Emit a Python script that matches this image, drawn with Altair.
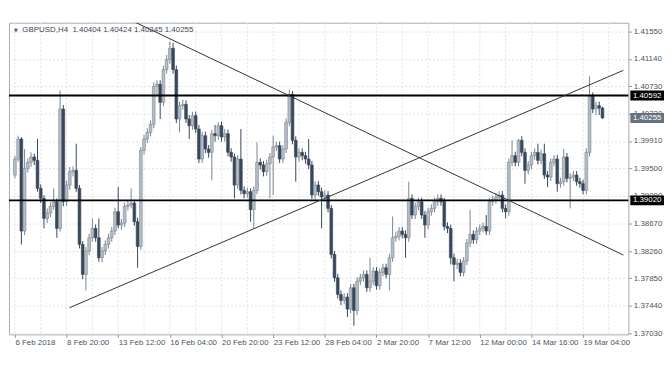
import altair as alt
import pandas as pd

# ---------------- data ----------------
symbol = "GBPUSD,H4"
x_labels = ["6 Feb 2018", "8 Feb 20:00", "13 Feb 12:00", "16 Feb 04:00",
            "20 Feb 20:00", "23 Feb 12:00", "28 Feb 04:00", "2 Mar 20:00",
            "7 Mar 12:00", "12 Mar 00:00", "14 Mar 16:00", "19 Mar 04:00"]
label_step = 16   # bars between time labels
grid_step = 8     # bars between vertical grid lines
y_ticks = [1.37030, 1.37440, 1.37850, 1.38260, 1.38670, 1.39090,
           1.39500, 1.39910, 1.40320, 1.40730, 1.41140, 1.41550]
levels = [1.40592, 1.39020]
current_price = 1.40255

first_open = 1.3940
closes = [
    1.3964, 1.3994, 1.3856, 1.3950, 1.3959, 1.3967, 1.3962, 1.3920, 1.3905, 1.3875,
    1.3883, 1.3893, 1.3900, 1.3860, 1.4039, 1.3900, 1.3925, 1.3945, 1.3947, 1.3920,
    1.3836, 1.3791, 1.3826, 1.3846, 1.3860, 1.3846, 1.3816, 1.3826, 1.3836, 1.3846,
    1.3856, 1.3885, 1.3865, 1.3868, 1.3893, 1.3895, 1.3898, 1.3870, 1.3833, 1.3977,
    1.3994, 1.4004, 1.4016, 1.4073, 1.4076, 1.4049, 1.4098, 1.4113, 1.4130, 1.4098,
    1.4024, 1.4044, 1.4046, 1.4024, 1.4014, 1.4029, 1.4009, 1.3964, 1.3999, 1.3979,
    1.3974, 1.4002, 1.3999, 1.4014, 1.3997, 1.4002, 1.3974, 1.3967, 1.3925, 1.3964,
    1.3917, 1.3912, 1.3915, 1.3888, 1.3917, 1.3959, 1.3955, 1.3945, 1.3957, 1.3967,
    1.3982, 1.3984, 1.3964, 1.3979, 1.4019, 1.4061, 1.3992, 1.3967, 1.3974, 1.3969,
    1.3964, 1.3955, 1.3910, 1.3925, 1.3915, 1.3907, 1.3910, 1.3890, 1.3821, 1.3786,
    1.3761, 1.3752, 1.3757, 1.3739, 1.3771, 1.3737, 1.3781, 1.3786, 1.3791, 1.3771,
    1.3781, 1.3796, 1.3774, 1.3794, 1.3801, 1.3791, 1.3816, 1.3846, 1.3848, 1.3856,
    1.3851, 1.3846, 1.3905, 1.3880, 1.3893, 1.3900, 1.3880, 1.3865, 1.3885, 1.3890,
    1.3900, 1.3905, 1.3900, 1.3863, 1.3860, 1.3816, 1.3806, 1.3808, 1.3794, 1.3811,
    1.3838, 1.3851, 1.3843, 1.3856, 1.3860, 1.3863, 1.3856, 1.3900, 1.3903, 1.3907,
    1.3910, 1.3890, 1.3885, 1.3959, 1.3969, 1.3959, 1.3992, 1.3974, 1.3947, 1.3955,
    1.3969, 1.3974, 1.3962, 1.3972, 1.3940, 1.3937, 1.3959, 1.3964, 1.3927, 1.3930,
    1.3967, 1.3935, 1.3937, 1.3940, 1.3930, 1.3927, 1.3917, 1.3974, 1.4058, 1.4039,
    1.4044, 1.40404, 1.40255]
highs = [
    1.3969, 1.3999, 1.3997, 1.3979, 1.3965, 1.3974, 1.3972, 1.3994, 1.3926, 1.3910,
    1.3890, 1.3899, 1.3920, 1.3905, 1.4067, 1.4045, 1.3932, 1.3952, 1.3953, 1.3987,
    1.3925, 1.3841, 1.3832, 1.3852, 1.3875, 1.3866, 1.3875, 1.3832, 1.3842, 1.3852,
    1.3862, 1.3891, 1.3922, 1.3874, 1.3899, 1.3902, 1.3920, 1.3903, 1.3876, 1.3982,
    1.4000, 1.4010, 1.4022, 1.4079, 1.4082, 1.4082, 1.4104, 1.4120, 1.4140, 1.4138,
    1.4104, 1.4050, 1.4053, 1.4052, 1.4030, 1.4035, 1.4035, 1.4015, 1.4005, 1.4005,
    1.3985, 1.4008, 1.4015, 1.4019, 1.4020, 1.4009, 1.4008, 1.3980, 1.3972, 1.3970,
    1.4009, 1.3923, 1.3921, 1.3920, 1.3923, 1.3989, 1.3965, 1.3961, 1.3963, 1.3973,
    1.3999, 1.3990, 1.3990, 1.3985, 1.4025, 1.4068, 1.4066, 1.3998, 1.3980, 1.3980,
    1.3975, 1.3994, 1.3961, 1.3931, 1.3931, 1.3921, 1.3917, 1.3916, 1.3895, 1.3826,
    1.3792, 1.3767, 1.3763, 1.3763, 1.3777, 1.3777, 1.3787, 1.3792, 1.3797, 1.3797,
    1.3816, 1.3802, 1.3802, 1.3800, 1.3807, 1.3807, 1.3822, 1.3878, 1.3855, 1.3862,
    1.3862, 1.3857, 1.3930, 1.3911, 1.3899, 1.3906, 1.3906, 1.3886, 1.3891, 1.3896,
    1.3906, 1.3911, 1.3911, 1.3906, 1.3869, 1.3866, 1.3822, 1.3814, 1.3814, 1.3817,
    1.3844, 1.3888, 1.3857, 1.3862, 1.3866, 1.3869, 1.3880, 1.3906, 1.3909, 1.3913,
    1.3916, 1.3916, 1.3896, 1.3965, 1.3992, 1.3975, 1.3994, 1.3998, 1.3980, 1.3961,
    1.3975, 1.3980, 1.3987, 1.3978, 1.3987, 1.3946, 1.3965, 1.3970, 1.3970, 1.3936,
    1.3979, 1.3973, 1.3943, 1.3946, 1.3946, 1.3936, 1.3933, 1.3980, 1.4088, 1.4064,
    1.4050, 1.4050, 1.40424]
lows = [
    1.3935, 1.3960, 1.3836, 1.3850, 1.3944, 1.3952, 1.3955, 1.3915, 1.3898, 1.3860,
    1.3868, 1.3877, 1.3888, 1.3846, 1.3855, 1.3893, 1.3894, 1.3918, 1.3938, 1.3915,
    1.3830, 1.3784, 1.3767, 1.3820, 1.3840, 1.3840, 1.3810, 1.3809, 1.3820, 1.3830,
    1.3840, 1.3850, 1.3860, 1.3858, 1.3862, 1.3887, 1.3890, 1.3864, 1.3801, 1.3828,
    1.3971, 1.3988, 1.3998, 1.4010, 1.4058, 1.4024, 1.4043, 1.4092, 1.4107, 1.4092,
    1.4018, 1.4004, 1.4038, 1.4018, 1.3994, 1.4008, 1.4003, 1.3958, 1.3958, 1.3973,
    1.3966, 1.3932, 1.3990, 1.3993, 1.3990, 1.3990, 1.3968, 1.3960, 1.3905, 1.3919,
    1.3911, 1.3905, 1.3906, 1.3870, 1.3860, 1.3911, 1.3948, 1.3938, 1.3939, 1.3905,
    1.3910, 1.3976, 1.3958, 1.3958, 1.3973, 1.4013, 1.3986, 1.3930, 1.3960, 1.3962,
    1.3957, 1.3949, 1.3904, 1.3903, 1.3909, 1.3860, 1.3900, 1.3884, 1.3815, 1.3780,
    1.3755, 1.3745, 1.3746, 1.3727, 1.3733, 1.3714, 1.3730, 1.3775, 1.3780, 1.3765,
    1.3765, 1.3775, 1.3768, 1.3768, 1.3788, 1.3785, 1.3767, 1.3810, 1.3840, 1.3842,
    1.3845, 1.3816, 1.3840, 1.3874, 1.3874, 1.3887, 1.3874, 1.3846, 1.3859, 1.3879,
    1.3884, 1.3894, 1.3894, 1.3857, 1.3853, 1.3806, 1.3781, 1.3799, 1.3788, 1.3788,
    1.3805, 1.3832, 1.3837, 1.3837, 1.3850, 1.3854, 1.3850, 1.3850, 1.3894, 1.3897,
    1.3901, 1.3884, 1.3875, 1.3879, 1.3953, 1.3953, 1.3953, 1.3968, 1.3927, 1.3941,
    1.3949, 1.3963, 1.3956, 1.3956, 1.3934, 1.3922, 1.3931, 1.3953, 1.3915, 1.3921,
    1.3924, 1.3929, 1.3890, 1.3931, 1.3924, 1.3921, 1.3911, 1.3911, 1.3968, 1.4033,
    1.4030, 1.4030, 1.40245]
opens = [first_open] + closes[:-1]   # each H4 bar opens at the previous close

# trend lines (bar index, price)
trend_down_bars = [37.3, 188.5]
trend_down_prices = [1.4169, 1.3820]
trend_up_bars = [16.9, 188.5]
trend_up_prices = [1.3741, 1.4097]

# ---------------- build tables ----------------
n = len(closes)
candles = pd.DataFrame({"bar": list(range(n)), "open": opens, "high": highs,
                        "low": lows, "close": closes})
candles["dir"] = ["up" if c >= o else "down" for o, c in zip(opens, closes)]

grid_df = pd.DataFrame({"bar": list(range(0, 189, grid_step))})
levels_df = pd.DataFrame({"level": levels})
current_df = pd.DataFrame({"level": [current_price]})
trend_df = pd.DataFrame({
    "bar": trend_down_bars + trend_up_bars,
    "price": trend_down_prices + trend_up_prices,
    "line": ["down"] * 2 + ["up"] * 2,
})
title_text = (symbol + "\u00a0\u00a0" + f"{opens[-1]:.5f} {highs[-1]:.5f} "
              f"{lows[-1]:.5f} {closes[-1]:.5f}")
title_df = pd.DataFrame({"t": [title_text]})
tri_df = pd.DataFrame({"t": ["\u25bc"]})

# ---------------- styling ----------------
W, H = 626, 315
FONT = "Liberation Sans"
TXT = "#4a5562"
label_js = "[" + ",".join("'" + s + "'" for s in x_labels) + "]"

xscale = alt.Scale(domain=[-0.3, 188.5], nice=False, zero=False)
yscale = alt.Scale(domain=[1.37011, 1.41684], nice=False, zero=False)

xaxis = alt.Axis(values=list(range(0, label_step * len(x_labels), label_step)),
                 labelExpr=f"{label_js}[round(datum.value/{label_step})]",
                 grid=False, domain=False, tickSize=3, tickColor="#8d959d",
                 labelColor=TXT, labelFont=FONT, labelFontSize=8,
                 labelAlign="left", labelPadding=1,
                 labelFlush=False, labelOverlap=False, title=None)
yaxis = alt.Axis(orient="right", values=y_ticks, format=".5f", grid=True,
                 gridDash=[2, 2], gridColor="#e0e3e7", domain=False,
                 tickSize=3, tickColor="#8d959d", labelPadding=2,
                 labelColor=TXT, labelFont=FONT, labelFontSize=8,
                 labelFlush=False, labelOverlap=False, title=None)


def X(f):
    return alt.X(f"{f}:Q", scale=xscale, axis=xaxis)


def Y(f):
    return alt.Y(f"{f}:Q", scale=yscale, axis=yaxis)


dirs = ["up", "down"]
fill_scale = alt.Scale(domain=dirs, range=["#b6bdc4", "#38475a"])
stroke_scale = alt.Scale(domain=dirs, range=["#7a8490", "#38475a"])

vgrid = alt.Chart(grid_df).mark_rule(strokeDash=[2, 2], color="#e0e3e7",
                                     strokeWidth=1).encode(x=X("bar"))

wicks = alt.Chart(candles).mark_rule(strokeWidth=1).encode(
    x=X("bar"), y=Y("low"), y2="high",
    stroke=alt.Stroke("dir:N", scale=stroke_scale, legend=None))

bodies = alt.Chart(candles).mark_bar(size=2.8, strokeWidth=0.6).encode(
    x=X("bar"), y=Y("open"), y2="close",
    fill=alt.Fill("dir:N", scale=fill_scale, legend=None),
    stroke=alt.Stroke("dir:N", scale=stroke_scale, legend=None))

hlines = alt.Chart(levels_df).mark_rule(color="#000000", strokeWidth=2).encode(
    y=Y("level"))

trends = alt.Chart(trend_df).mark_line(color="#333333", strokeWidth=1,
                                       clip=True).encode(
    x=X("bar"), y=Y("price"), detail="line:N")

box_x = W + 19
level_boxes = alt.Chart(levels_df).mark_tick(
    orient="horizontal", thickness=10, size=34, color="#000000", opacity=1
).encode(x=alt.value(box_x), y=Y("level"))
level_text = alt.Chart(levels_df).mark_text(
    color="#ffffff", font=FONT, fontSize=8, align="center", baseline="middle"
).encode(x=alt.value(box_x), y=Y("level"),
         text=alt.Text("level:Q", format=".5f"))

cur_box = alt.Chart(current_df).mark_tick(
    orient="horizontal", thickness=10, size=34, color="#66717d", opacity=1
).encode(x=alt.value(box_x), y=Y("level"))
cur_text = alt.Chart(current_df).mark_text(
    color="#ffffff", font=FONT, fontSize=8, align="center", baseline="middle"
).encode(x=alt.value(box_x), y=Y("level"),
         text=alt.Text("level:Q", format=".5f"))

title = alt.Chart(title_df).mark_text(
    font=FONT, fontSize=8, color="#3f4954", align="left", baseline="middle"
).encode(x=alt.value(13.5), y=alt.value(7), text="t:N")
tri = alt.Chart(tri_df).mark_text(
    font="DejaVu Sans", fontSize=5, color="#4a5562", align="center",
    baseline="middle"
).encode(x=alt.value(7), y=alt.value(7), text="t:N")

chart = alt.layer(
    vgrid, wicks, bodies, hlines, trends,
    level_boxes, level_text, cur_box, cur_text, title, tri
).properties(
    width=W, height=H,
    autosize=alt.AutoSizeParams(type="none"),
    padding={"left": 1, "top": 13, "right": 36, "bottom": 20},
    background="#ffffff",
).configure_view(stroke="#a3aab1", strokeWidth=1)

chart.save("out.html", embed_options={"renderer": "svg", "actions": False})
